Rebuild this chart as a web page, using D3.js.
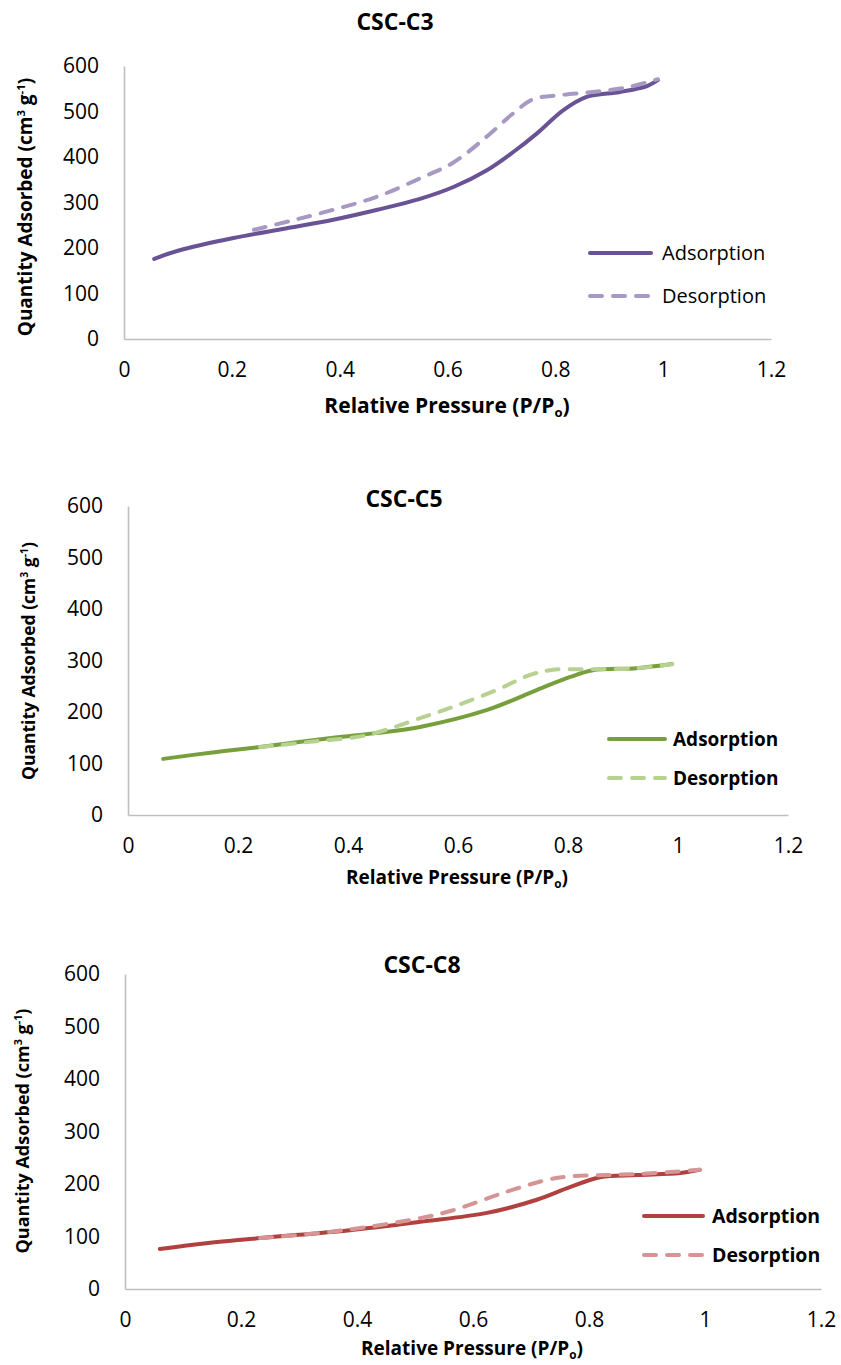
<!DOCTYPE html>
<html>
<head>
<meta charset="utf-8">
<script src="https://cdn.jsdelivr.net/npm/d3@7"></script>
<style>
  html, body { margin: 0; padding: 0; background: #fff; }
  svg { display: block; }
  text { font-family: "Open Sans", "Noto Sans", sans-serif; fill: #000; }
</style>
</head>
<body>
<svg id="chart" width="841" height="1365"></svg>
<script>
// Nitrogen isotherms for the three carbons
const xTicks = [0, 0.2, 0.4, 0.6, 0.8, 1, 1.2];
const yTicks = [0, 100, 200, 300, 400, 500, 600];

// CSC-C3
const c3AdsP = [0.056, 0.10, 0.203, 0.30, 0.388, 0.47, 0.549, 0.611, 0.673, 0.722, 0.766, 0.815, 0.858, 0.92, 0.97, 0.99];
const c3AdsQ = [176, 194, 222, 243, 262, 284, 308, 334, 371, 411, 452, 503, 532, 543, 556, 569];
const c3DesP = [0.241, 0.31, 0.388, 0.47, 0.549, 0.611, 0.673, 0.722, 0.759, 0.809, 0.870, 0.933, 0.99];
const c3DesQ = [240, 260, 284, 313, 353, 388, 445, 496, 527, 536, 543, 553, 571];

// CSC-C5
const c5AdsP = [0.064, 0.15, 0.24, 0.373, 0.45, 0.531, 0.653, 0.744, 0.804, 0.845, 0.925, 0.989];
const c5AdsQ = [109, 121, 132, 150, 159, 171, 204, 243, 268, 281, 285, 293];
const c5DesP = [0.24, 0.33, 0.434, 0.531, 0.591, 0.671, 0.731, 0.773, 0.835, 0.925, 0.989];
const c5DesQ = [132, 142, 155, 188, 210, 243, 272, 282, 283, 285, 293];

// CSC-C8
const c8AdsP = [0.06, 0.14, 0.233, 0.388, 0.509, 0.624, 0.71, 0.767, 0.819, 0.883, 0.957, 0.991];
const c8AdsQ = [76, 87, 97, 112, 128, 145, 170, 194, 213, 217, 221, 227];
const c8DesP = [0.233, 0.33, 0.417, 0.509, 0.566, 0.652, 0.728, 0.772, 0.831, 0.90, 0.991];
const c8DesQ = [97, 106, 118, 135, 150, 183, 208, 215, 217, 220, 227];

const panels = [
  { title: "CSC-C3", ads: [c3AdsP, c3AdsQ], des: [c3DesP, c3DesQ],
    adsColor: "#6a5394", desColor: "#a899c4",
    x0: 124, x1: 771, yTop: 66, yBot: 339,
    titleX: 395, titleY: 30, yLabX: 32, yLabY: 207, yLabSize: 19,
    xLabX: 447, xLabY: 413, xLabSize: 21,
    legX: 588, legLine: 65, legTextX: 662, legY: 253, legGap: 43, legBold: false, legSize: 20 },
  { title: "CSC-C5", ads: [c5AdsP, c5AdsQ], des: [c5DesP, c5DesQ],
    adsColor: "#77a03d", desColor: "#b6d190",
    x0: 128, x1: 788, yTop: 506, yBot: 815,
    titleX: 404, titleY: 507, yLabX: 35, yLabY: 661, yLabSize: 17.5,
    xLabX: 457, xLabY: 884, xLabSize: 19,
    legX: 607, legLine: 60, legTextX: 673, legY: 739, legGap: 39, legBold: true, legSize: 19 },
  { title: "CSC-C8", ads: [c8AdsP, c8AdsQ], des: [c8DesP, c8DesQ],
    adsColor: "#b0413e", desColor: "#d69494",
    x0: 125, x1: 821, yTop: 974, yBot: 1289,
    titleX: 422, titleY: 973, yLabX: 29, yLabY: 1131, yLabSize: 18,
    xLabX: 472, xLabY: 1355, xLabSize: 19,
    legX: 642, legLine: 63, legTextX: 712, legY: 1216, legGap: 39, legBold: true, legSize: 19.5 }
];

const svg = d3.select("#chart");

panels.forEach(p => {
  const g = svg.append("g");
  const x = d3.scaleLinear().domain([0, 1.2]).range([p.x0, p.x1]);
  const y = d3.scaleLinear().domain([0, 600]).range([p.yBot, p.yTop]);

  // axes
  const xAxis = d3.axisBottom(x).tickValues(xTicks).tickSize(0).tickPadding(23)
    .tickFormat(d => d3.format("~g")(d));
  const yAxis = d3.axisLeft(y).tickValues(yTicks).tickSize(0).tickPadding(25);

  const gx = g.append("g").attr("transform", `translate(0,${p.yBot})`).call(xAxis);
  const gy = g.append("g").attr("transform", `translate(${p.x0},0)`).call(yAxis);
  [gx, gy].forEach(a => {
    a.select(".domain").attr("stroke", "#bfbfbf").attr("stroke-width", 1.6);
    a.selectAll("text").attr("font-family", "'Open Sans', sans-serif")
      .attr("font-size", 21).attr("fill", "#222");
  });

  // title
  g.append("text").attr("x", p.titleX).attr("y", p.titleY)
    .attr("text-anchor", "middle").attr("font-weight", "bold").attr("font-size", 23)
    .text(p.title);

  // y axis label
  const ys = p.yLabSize;
  const yl = g.append("text")
    .attr("transform", `translate(${p.yLabX},${p.yLabY}) rotate(-90)`)
    .attr("text-anchor", "middle").attr("font-weight", "bold").attr("font-size", ys);
  yl.append("tspan").text("Quantity Adsorbed (cm");
  yl.append("tspan").attr("font-size", ys * 0.6).attr("dy", -ys * 0.38).text("3");
  yl.append("tspan").attr("dy", ys * 0.38).text(" g");
  yl.append("tspan").attr("font-size", ys * 0.6).attr("dy", -ys * 0.38).text("-1");
  yl.append("tspan").attr("dy", ys * 0.38).text(")");

  // x axis label
  const xs = p.xLabSize;
  const xl = g.append("text").attr("x", p.xLabX).attr("y", p.xLabY)
    .attr("text-anchor", "middle").attr("font-weight", "bold").attr("font-size", xs);
  xl.append("tspan").text("Relative Pressure (P/P");
  xl.append("tspan").attr("font-size", xs * 0.62).attr("dy", xs * 0.2).text("o");
  xl.append("tspan").attr("dy", -xs * 0.2).text(")");

  const line = d3.line().x(d => x(d[0])).y(d => y(d[1])).curve(d3.curveCatmullRom.alpha(0.5));
  const pts = s => s[0].map((v, i) => [v, s[1][i]]);

  g.append("path").datum(pts(p.ads)).attr("d", line)
    .attr("fill", "none").attr("stroke", p.adsColor).attr("stroke-width", 4)
    .attr("stroke-linecap", "round");
  g.append("path").datum(pts(p.des)).attr("d", line)
    .attr("fill", "none").attr("stroke", p.desColor).attr("stroke-width", 4)
    .attr("stroke-dasharray", "12 11").attr("stroke-linecap", "round");

  // legend
  const items = [["Adsorption", p.adsColor, null], ["Desorption", p.desColor, "12 11"]];
  items.forEach((it, i) => {
    const ly = p.legY + i * p.legGap;
    g.append("line").attr("x1", p.legX + 2).attr("x2", p.legX + p.legLine - 2)
      .attr("y1", ly).attr("y2", ly)
      .attr("stroke", it[1]).attr("stroke-width", 4).attr("stroke-linecap", "round")
      .attr("stroke-dasharray", it[2]);
    g.append("text").attr("x", p.legTextX).attr("y", ly + 7)
      .attr("font-size", p.legSize).attr("font-weight", p.legBold ? "bold" : "normal")
      .text(it[0]);
  });
});
</script>
</body>
</html>
